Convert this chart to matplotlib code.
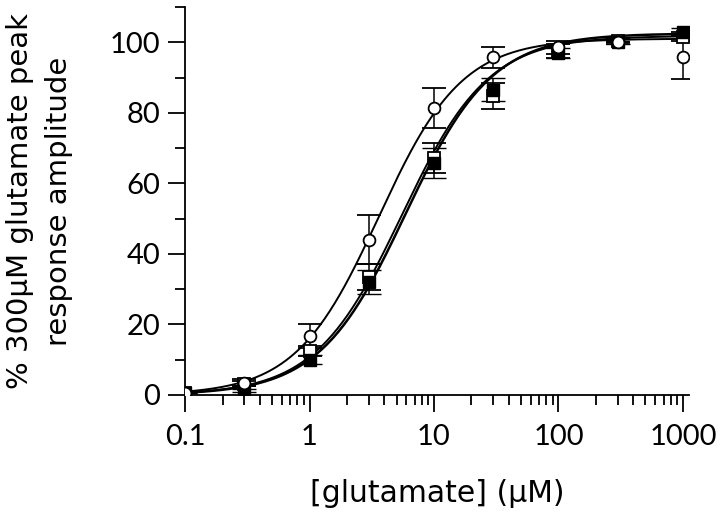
import matplotlib
matplotlib.use("Agg")
import matplotlib.pyplot as plt
import numpy as np
from matplotlib.ticker import FixedLocator, NullFormatter

plt.rcParams["font.family"] = ["Lato", "DejaVu Sans"]

# glutamate concentrations (uM)
conc = [0.1, 0.3, 1, 3, 10, 30, 100, 300, 1000]

# open circles
circ_open = [0.5, 3.5, 16.8, 44.0, 81.4, 95.7, 98.6, 100.0, 95.7]
circ_open_err = [0.0, 1.0, 3.4, 7.0, 5.7, 3.0, 1.8, 0.0, 6.0]

# open squares
sq_open = [0.5, 3.2, 12.5, 33.5, 67.2, 84.8, 97.6, 100.3, 101.6]
sq_open_err = [0.0, 0.8, 1.5, 3.7, 4.2, 3.7, 2.0, 0.8, 1.2]

# filled squares
sq_fill = [0.5, 1.3, 10.0, 32.0, 65.8, 86.5, 97.0, 100.2, 103.0]
sq_fill_err = [0.0, 0.5, 1.2, 3.5, 4.2, 3.3, 1.5, 0.8, 1.0]

# Hill fit parameters: (max, EC50, n)
fit_open = (101.0, 3.6, 1.3)
fit_sq_open = (101.8, 5.5, 1.25)
fit_sq_fill = (102.5, 5.9, 1.25)

xticks = [0.1, 1, 10, 100, 1000]
xticklabels = ["0.1", "1", "10", "100", "1000"]


def hill(x, top, ec50, n):
    return top / (1 + (ec50 / x) ** n)


fig = plt.figure(figsize=(7.2, 5.19), dpi=100)
ax = fig.add_axes([0.257, 0.239, 0.700, 0.7476])

xs = np.logspace(-1, 3, 400)
ax.plot(xs, hill(xs, *fit_open), color="k", lw=1.4, zorder=2)
ax.plot(xs, hill(xs, *fit_sq_open), color="k", lw=1.4, zorder=2)
ax.plot(xs, hill(xs, *fit_sq_fill), color="k", lw=1.8, zorder=2)

ekw = dict(ecolor="k", elinewidth=1.1, capsize=8.5, capthick=1.1,
           ls="none", zorder=3)
ax.errorbar(conc, sq_open, yerr=sq_open_err, marker="s", ms=8.5,
            mfc="white", mec="k", mew=1.3, **ekw)
ax.errorbar(conc, sq_fill, yerr=sq_fill_err, marker="s", ms=8.5,
            mfc="k", mec="k", mew=1.0, **ekw)
ax.errorbar(conc, circ_open, yerr=circ_open_err, marker="o", ms=8.5,
            mfc="white", mec="k", mew=1.3, **ekw)

ax.set_xscale("log")
ax.set_xlim(0.1, 1120)
ax.set_ylim(0, 110)

ax.xaxis.set_major_locator(FixedLocator(xticks))
ax.set_xticklabels(xticklabels)
minors = [m * d for d in [0.1, 1, 10, 100] for m in range(2, 10)]
ax.xaxis.set_minor_locator(FixedLocator(minors))
ax.xaxis.set_minor_formatter(NullFormatter())

ax.set_yticks([0, 20, 40, 60, 80, 100])
ax.set_yticks([10, 30, 50, 70, 90, 110], minor=True)

for s in ["top", "right"]:
    ax.spines[s].set_visible(False)
for s in ["left", "bottom"]:
    ax.spines[s].set_linewidth(1.3)

ax.tick_params(which="major", length=12, width=1.3, labelsize=21, pad=6,
               direction="out")
ax.tick_params(which="minor", length=7.5, width=1.3, direction="out")
ax.tick_params(axis="x", which="major", pad=9)

ax.set_xlabel("[glutamate] (µM)", fontsize=21.5, labelpad=21,
              family="DejaVu Sans")
ax.set_ylabel("% 300µM glutamate peak\nresponse amplitude", fontsize=21,
              labelpad=26, linespacing=1.5, family="DejaVu Sans")

fig.savefig("out.png", dpi=100)
